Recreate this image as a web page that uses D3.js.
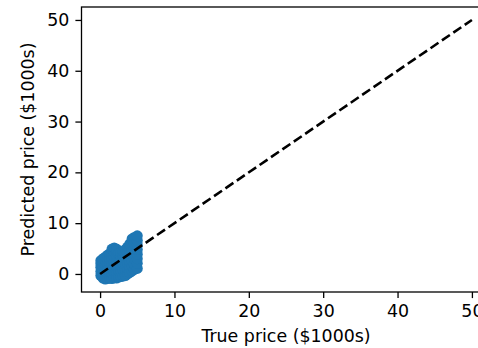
<!DOCTYPE html>
<html>
<head>
<meta charset="utf-8">
<script src="https://cdn.jsdelivr.net/npm/d3@7"></script>
<style>
  html, body { margin: 0; padding: 0; background: #fff; }
  svg { display: block; font-family: "DejaVu Sans", sans-serif; }
</style>
</head>
<body>
<svg id="chart" width="478" height="348"></svg>
<script>
// ---- data ----
const trueVals = [
  0.1,0.1,0.1,0.1,0.1,
  0.4,0.4,0.4,0.4,0.4,0.4,
  0.7,0.7,0.7,0.7,0.7,0.7,
  1.0,1.0,1.0,1.0,1.0,1.0,
  1.3,1.3,1.3,1.3,1.3,1.3,
  1.6,1.6,1.6,1.6,1.6,1.6,1.6,
  1.9,1.9,1.9,1.9,1.9,1.9,1.9,
  2.2,2.2,2.2,2.2,2.2,2.2,2.2,
  2.5,2.5,2.5,2.5,2.5,2.5,
  2.8,2.8,2.8,2.8,2.8,2.8,
  3.1,3.1,3.1,3.1,3.1,3.1,
  3.4,3.4,3.4,3.4,3.4,3.4,
  3.7,3.7,3.7,3.7,3.7,3.7,
  4.0,4.0,4.0,4.0,4.0,4.0,
  4.3,4.3,4.3,4.3,4.3,4.3,4.3,
  4.6,4.6,4.6,4.6,4.6,4.6,4.6,
  5.0,5.0,5.0,5.0,5.0,5.0,5.0,5.0
];
const predVals = [
  -0.3,0.5,1.3,2.0,2.6,
  -0.8,0.0,0.8,1.6,2.4,3.0,
  -1.0,0.1,1.0,1.9,2.8,3.3,
  -0.9,0.2,1.1,2.0,2.9,3.7,
  -0.8,0.3,1.2,2.1,3.0,4.0,
  -0.9,0.2,1.2,2.2,3.2,4.2,4.9,
  -0.7,0.4,1.4,2.4,3.4,4.3,5.1,
  -0.8,0.4,1.5,2.6,3.6,4.4,4.9,
  -0.6,0.6,1.6,2.6,3.5,4.1,
  -0.5,0.7,1.7,2.7,3.6,4.2,
  -0.4,0.8,1.9,2.9,3.8,4.4,
  -0.3,0.9,2.0,3.0,4.0,4.8,
  0.0,1.1,2.1,3.2,4.3,5.3,
  0.3,1.3,2.3,3.4,4.5,5.9,
  0.6,1.6,2.6,3.7,4.8,6.2,6.9,
  0.9,2.0,3.0,4.0,5.0,6.0,7.2,
  1.1,2.1,3.0,3.9,4.8,5.7,6.6,7.5
];
const refLine = [0, 50];
const xTicks = [0, 10, 20, 30, 40, 50];
const yTicks = [0, 10, 20, 30, 40, 50];
const xLabel = "True price ($1000s)";
const yLabel = "Predicted price ($1000s)";

// ---- layout ----
const svg = d3.select("#chart");
const L = 81.5, T = 7, R = 490.5, B = 292;
const fs = 17.4;

const xLo = Math.min(d3.min(trueVals), refLine[0]);
const xHi = Math.max(d3.max(trueVals), refLine[1]);
const yLo = Math.min(d3.min(predVals), refLine[0]);
const yHi = Math.max(d3.max(predVals), refLine[1]);
const xp = 0.05 * (xHi - xLo), yp = 0.05 * (yHi - yLo);

const x = d3.scaleLinear().domain([xLo - xp, xHi + xp]).range([L, R]);
const y = d3.scaleLinear().domain([yLo - yp, yHi + yp]).range([B, T]);

svg.append("defs").append("clipPath").attr("id", "clip")
  .append("rect").attr("x", L).attr("y", T).attr("width", R - L).attr("height", B - T);

const plot = svg.append("g").attr("clip-path", "url(#clip)");
const pts = trueVals.map((v, i) => [v, predVals[i]]);
plot.selectAll("circle").data(pts).enter().append("circle")
  .attr("cx", d => x(d[0])).attr("cy", d => y(d[1]))
  .attr("r", 5.5).attr("fill", "#1f77b4");

plot.append("line")
  .attr("x1", x(refLine[0])).attr("y1", y(refLine[0]))
  .attr("x2", x(refLine[1])).attr("y2", y(refLine[1]))
  .attr("stroke", "#000").attr("stroke-width", 2.6)
  .attr("stroke-dasharray", "9.6,4.2");

// axes
const xAxis = d3.axisBottom(x).tickValues(xTicks).tickSize(6.1).tickPadding(6.1).tickFormat(d3.format("d"));
const yAxis = d3.axisLeft(y).tickValues(yTicks).tickSize(6.1).tickPadding(6.1).tickFormat(d3.format("d"));

const gx = svg.append("g").attr("transform", `translate(0,${B})`).call(xAxis);
const gy = svg.append("g").attr("transform", `translate(${L},0)`).call(yAxis);
[gx, gy].forEach(g => {
  g.select(".domain").remove();
  g.selectAll("line").attr("stroke", "#000").attr("stroke-width", 1.3);
  g.selectAll("text").attr("fill", "#000").style("font-size", fs + "px").style("font-family", "DejaVu Sans");
});

// spines
svg.append("rect").attr("x", L).attr("y", T).attr("width", R - L).attr("height", B - T)
  .attr("fill", "none").attr("stroke", "#000").attr("stroke-width", 1.3);

svg.append("text").attr("x", (L + R) / 2).attr("y", 341.5)
  .attr("text-anchor", "middle").style("font-size", fs + "px").attr("fill", "#000").text(xLabel);
svg.append("text").attr("transform", `translate(34,${(T + B) / 2}) rotate(-90)`)
  .attr("text-anchor", "middle").style("font-size", fs + "px").attr("fill", "#000").text(yLabel);
</script>
</body>
</html>
